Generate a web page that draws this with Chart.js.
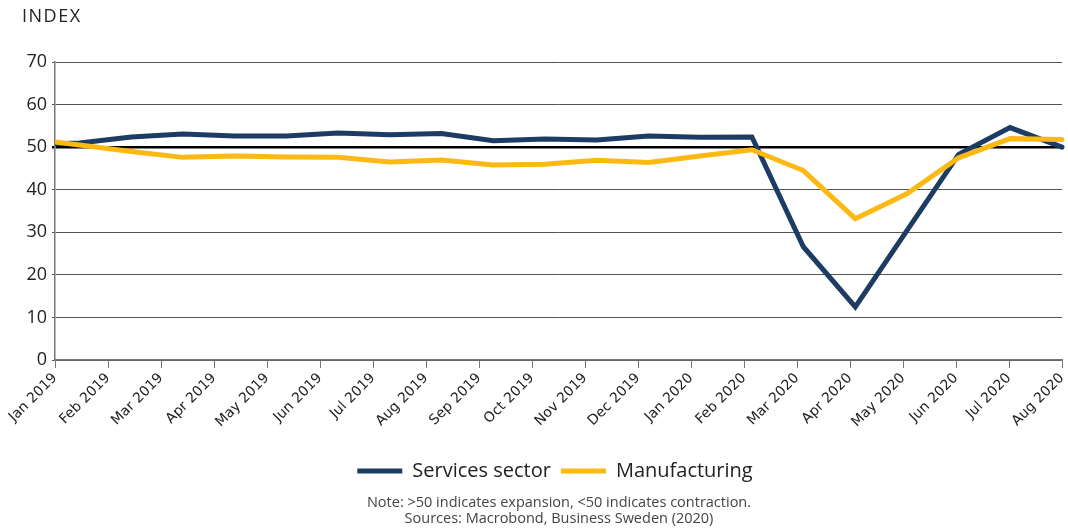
<!DOCTYPE html>
<html>
<head>
<meta charset="utf-8">
<script src="https://cdn.jsdelivr.net/npm/chart.js@4.4.1/dist/chart.umd.min.js"></script>
<style>
  html, body { margin: 0; padding: 0; background: #fff; }
  #wrap { position: relative; width: 1068px; height: 528px; }
  #c { position: absolute; left: 0; top: 0; }
  .lbl { position: absolute; font-family: "Open Sans", "DejaVu Sans", sans-serif; color: #222; white-space: nowrap; }
  #index { left: 22px; top: 3px; font-size: 18px; letter-spacing: 1.5px; }
  #note { left: 0; width: 1118px; top: 494px; text-align: center; font-size: 14.5px; color: #444; line-height: 16px; }
</style>
</head>
<body>
<div id="wrap">
  <canvas id="c" width="1068" height="528"></canvas>
  <div class="lbl" id="index">INDEX</div>
  <div class="lbl" id="note">Note: &gt;50 indicates expansion, &lt;50 indicates contraction.<br>Sources: Macrobond, Business Sweden (2020)</div>
</div>
<script>
// Month tick labels (x axis positions 0..19)
const monthLabels = ["Jan 2019","Feb 2019","Mar 2019","Apr 2019","May 2019","Jun 2019","Jul 2019","Aug 2019","Sep 2019","Oct 2019","Nov 2019","Dec 2019","Jan 2020","Feb 2020","Mar 2020","Apr 2020","May 2020","Jun 2020","Jul 2020","Aug 2020"];
const obsMonth = [-0.51, 0.46, 1.44, 2.41, 3.39, 4.37, 5.34, 6.32, 7.29, 8.27, 9.24, 10.22, 11.20, 12.17, 13.15, 14.12, 15.10, 16.08, 17.05, 18.02, 19.00];
const servicesValues = [50.6, 51.0, 52.4, 53.1, 52.6, 52.6, 53.3, 52.9, 53.2, 51.5, 51.9, 51.7, 52.6, 52.3, 52.4, 26.6, 12.5, 30.5, 48.3, 54.6, 50.0];
const manufacturingValues = [52.0, 50.5, 49.0, 47.6, 47.9, 47.7, 47.6, 46.5, 47.0, 45.8, 46.0, 46.9, 46.4, 47.9, 49.4, 44.5, 33.2, 39.1, 47.5, 52.0, 51.8];
const yTicks = [0, 10, 20, 30, 40, 50, 60, 70];

const toPts = (vals) => vals.map((v, i) => ({ x: obsMonth[i], y: v }));

const legendShift = {
  id: 'legendShift',
  afterLayout(chart) {
    const lg = chart.legend;
    if (lg) { lg.left += 24; lg.right += 24; }
  }
};

new Chart(document.getElementById('c'), {
  type: 'line',
  plugins: [legendShift],
  data: {
    datasets: [
      { label: 'Services sector', data: toPts(servicesValues), borderColor: '#1c3c64', backgroundColor: '#1c3c64',
        borderWidth: 5, pointRadius: 0, pointStyle: 'line', borderCapStyle: 'round', tension: 0, order: 1,
        clip: { left: 0, right: 6, top: 6, bottom: 6 } },
      { label: 'Manufacturing', data: toPts(manufacturingValues), borderColor: '#fdb913', backgroundColor: '#fdb913',
        borderWidth: 5, pointRadius: 0, pointStyle: 'line', borderCapStyle: 'round', tension: 0, order: 0,
        clip: { left: 0, right: 6, top: 6, bottom: 6 } }
    ]
  },
  options: {
    responsive: false,
    animation: false,
    layout: { padding: { top: 62, left: 0, right: 6, bottom: 37 } },
    plugins: {
      tooltip: { enabled: false },
      legend: {
        position: 'bottom',
        labels: {
          sort: (a, b) => a.datasetIndex - b.datasetIndex,
          usePointStyle: true, pointStyle: 'line', pointStyleWidth: 45,
          boxWidth: 45, boxHeight: 5, padding: 10,
          color: '#222',
          font: { family: '"Open Sans", "DejaVu Sans", sans-serif', size: 20 }
        }
      }
    },
    scales: {
      x: {
        type: 'linear', min: 0, max: 19,
        afterBuildTicks: (s) => { s.ticks = monthLabels.map((_, i) => ({ value: i })); },
        afterFit: (s) => { s.height = 91; s.paddingRight = 0; s.paddingLeft = 0; },
        ticks: {
          autoSkip: false, minRotation: 45, maxRotation: 45, padding: 2,
          color: '#222', font: { family: '"DejaVu Sans", sans-serif', size: 14 },
          callback: (v) => monthLabels[v]
        },
        grid: { drawOnChartArea: false, drawTicks: true, tickLength: 8, color: '#777', lineWidth: 1 },
        border: { display: true, color: '#777', width: 1.5 }
      },
      y: {
        min: 0, max: 70,
        afterBuildTicks: (s) => { s.ticks = yTicks.map(v => ({ value: v })); },
        afterFit: (s) => { s.width = 55; },
        ticks: { padding: 5, color: '#222', font: { family: '"Open Sans", "DejaVu Sans", sans-serif', size: 18 } },
        grid: {
          tickLength: 3,
          color: (ctx) => ctx.tick && ctx.tick.value === 50 ? '#000' : '#555',
          lineWidth: (ctx) => ctx.tick && ctx.tick.value === 50 ? 2.5 : 1
        },
        border: { display: true, color: '#777', width: 1.5 }
      }
    }
  }
});
</script>
</body>
</html>
